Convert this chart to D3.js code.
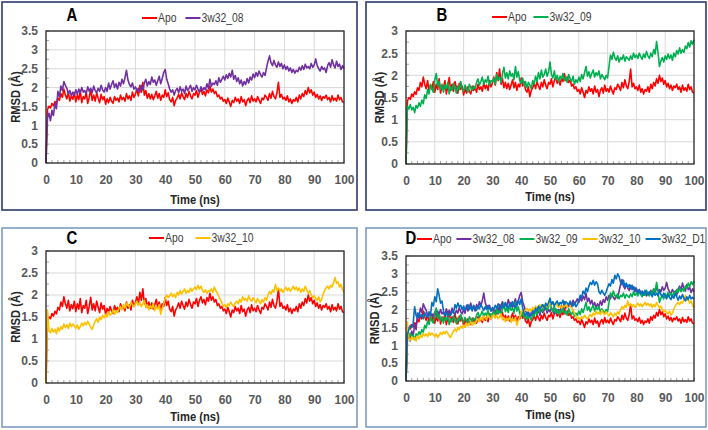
<!DOCTYPE html>
<html>
<head>
<meta charset="utf-8">
<script src="https://cdn.jsdelivr.net/npm/d3@7"></script>
<style>
  body { margin: 0; background: #fff; }
  svg { display: block; font-family: "Liberation Sans", Arial, sans-serif; }
</style>
</head>
<body>
<div id="chart"></div>
<script>
// RMSD (Å) sampled every 0.5 ns, 0..100 ns (201 values each)
var timeStep = 0.5;

var apo = [
  0, 1.42, 1.50, 1.46, 1.58, 1.52, 1.63, 1.57, 1.72, 1.66, 1.84, 1.74, 1.96, 1.80, 1.70, 1.88, 1.64, 1.78, 1.69, 1.86,
  1.62, 1.80, 1.68, 1.92, 1.60, 1.76, 1.70, 1.88, 1.58, 1.74, 1.95, 1.66, 1.80, 1.64, 1.86, 1.72, 1.60, 1.82, 1.68, 1.76,
  1.56, 1.70, 1.60, 1.74, 1.64, 1.58, 1.76, 1.66, 1.72, 1.62, 1.80, 1.68, 1.74, 1.64, 1.84, 1.70, 1.78, 1.66, 1.88, 1.74,
  1.82, 1.96, 1.78, 2.06, 1.88, 2.14, 1.80, 1.92, 1.72, 1.84, 1.70, 1.82, 1.68, 1.78, 1.90, 1.72, 1.84, 1.66, 1.80, 1.74,
  1.94, 1.76, 1.86, 1.68, 1.62, 1.74, 1.52, 1.66, 1.72, 1.82, 1.70, 1.86, 1.76, 1.68, 1.84, 1.74, 1.90, 1.78, 1.70, 1.84,
  1.80, 1.92, 1.74, 1.88, 1.96, 1.82, 1.90, 1.78, 1.94, 1.86, 2.04, 1.88, 1.96, 1.84, 1.90, 1.76, 1.80, 1.70, 1.74, 1.64,
  1.68, 1.58, 1.72, 1.62, 1.50, 1.66, 1.60, 1.74, 1.64, 1.70, 1.58, 1.76, 1.62, 1.68, 1.52, 1.66, 1.72, 1.60, 1.78, 1.64,
  1.70, 1.62, 1.76, 1.66, 1.58, 1.72, 1.68, 1.80, 1.74, 1.66, 1.84, 1.72, 1.90, 1.76, 1.70, 1.86, 2.14, 1.74, 1.82, 1.70,
  1.74, 1.66, 1.78, 1.62, 1.70, 1.58, 1.68, 1.64, 1.74, 1.62, 1.80, 1.70, 1.84, 1.76, 1.92, 1.82, 2.00, 1.86, 1.94, 1.80,
  1.88, 1.74, 1.82, 1.70, 1.78, 1.66, 1.76, 1.72, 1.80, 1.68, 1.74, 1.62, 1.78, 1.66, 1.72, 1.64, 1.80, 1.68, 1.74, 1.62,
  1.60
];

var lig08 = [
  0, 1.20, 1.32, 1.12, 1.40, 1.26, 1.58, 1.44, 1.90, 1.76, 2.04, 1.92, 2.16, 2.06, 1.98, 1.84, 1.92, 1.78, 1.88, 1.80,
  1.94, 1.82, 1.96, 1.86, 2.00, 1.88, 1.92, 1.84, 2.02, 1.90, 1.98, 1.86, 2.04, 1.92, 1.86, 1.98, 1.90, 2.06, 1.94, 1.88,
  2.00, 1.90, 2.12, 1.96, 2.08, 2.18, 2.00, 2.10, 1.96, 2.14, 2.04, 2.22, 2.10, 2.26, 2.46, 2.20, 2.08, 2.02, 2.12, 1.96,
  2.02, 1.92, 1.98, 1.88, 2.06, 1.94, 2.12, 2.22, 2.04, 2.16, 2.08, 2.28, 2.14, 2.20, 2.06, 2.18, 2.30, 2.10, 2.24, 2.40,
  2.48, 2.22, 2.10, 1.96, 1.88, 1.94, 1.80, 1.92, 1.98, 1.86, 2.02, 1.90, 1.96, 1.84, 2.04, 1.92, 1.98, 2.06, 1.90, 2.00,
  1.94, 2.06, 1.96, 1.88, 2.02, 1.92, 2.00, 1.94, 2.10, 1.98, 2.22, 2.04, 2.12, 2.08, 2.18, 2.06, 2.26, 2.14, 2.22, 2.30,
  2.20, 2.34, 2.24, 2.38, 2.28, 2.46, 2.22, 2.32, 2.16, 2.26, 2.10, 2.20, 2.04, 2.16, 2.08, 2.24, 2.12, 2.28, 2.20, 2.36,
  2.26, 2.40, 2.30, 2.44, 2.34, 2.28, 2.40, 2.32, 2.52, 2.70, 2.84, 2.66, 2.58, 2.72, 2.60, 2.54, 2.68, 2.56, 2.64, 2.50,
  2.60, 2.48, 2.56, 2.44, 2.52, 2.40, 2.48, 2.38, 2.46, 2.42, 2.54, 2.46, 2.58, 2.48, 2.62, 2.52, 2.56, 2.50, 2.64, 2.54,
  2.60, 2.76, 2.58, 2.50, 2.44, 2.56, 2.48, 2.52, 2.40, 2.58, 2.66, 2.54, 2.74, 2.60, 2.52, 2.70, 2.56, 2.62, 2.48, 2.58,
  2.50
];

var lig09 = [
  0, 1.30, 1.24, 1.34, 1.22, 1.28, 1.16, 1.32, 1.26, 1.38, 1.30, 1.44, 1.36, 1.56, 1.48, 1.68, 1.58, 1.80, 1.70, 1.62,
  1.90, 2.04, 1.76, 1.86, 1.68, 1.80, 1.62, 1.78, 1.70, 1.84, 1.58, 1.74, 1.66, 1.82, 1.72, 1.60, 1.76, 1.68, 1.86, 1.72,
  1.64, 1.78, 1.70, 1.62, 1.80, 1.72, 1.66, 1.76, 1.70, 1.84, 1.92, 1.78, 1.86, 1.96, 1.80, 1.90, 1.84, 1.98, 1.78, 1.88,
  1.86, 1.94, 1.80, 2.02, 1.90, 1.96, 1.84, 2.04, 2.18, 1.94, 2.06, 1.92, 2.10, 1.98, 2.04, 1.90, 2.20, 1.96, 2.08, 1.88,
  1.82, 1.94, 1.76, 1.86, 1.72, 1.84, 1.78, 1.70, 1.88, 1.80, 1.98, 1.86, 2.06, 1.92, 2.12, 1.96, 2.02, 2.14, 1.98, 2.08,
  2.30, 2.02, 1.94, 2.10, 1.90, 2.00, 1.86, 1.98, 1.92, 2.04, 1.88, 1.96, 1.84, 2.02, 1.92, 1.86, 1.98, 1.80, 1.90, 1.84,
  1.96, 1.86, 2.02, 1.92, 2.06, 2.20, 1.98, 2.08, 1.94, 2.04, 2.12, 1.96, 2.06, 2.00, 2.10, 1.92, 2.02, 1.96, 1.90, 2.00,
  1.94, 2.20, 2.46, 2.36, 2.52, 2.40, 2.34, 2.44, 2.30, 2.40, 2.36, 2.46, 2.32, 2.42, 2.38, 2.34, 2.44, 2.36, 2.50, 2.40,
  2.46, 2.38, 2.50, 2.42, 2.36, 2.48, 2.40, 2.54, 2.44, 2.38, 2.50, 2.42, 2.58, 2.48, 2.76, 2.52, 2.20, 2.32, 2.40, 2.30,
  2.44, 2.36, 2.48, 2.38, 2.46, 2.34, 2.50, 2.42, 2.56, 2.48, 2.62, 2.50, 2.58, 2.52, 2.66, 2.60, 2.74, 2.64, 2.78, 2.70,
  2.80
];

var lig10 = [
  0, 1.66, 1.18, 1.14, 1.24, 1.16, 1.22, 1.12, 1.26, 1.18, 1.28, 1.22, 1.34, 1.26, 1.32, 1.24, 1.36, 1.28, 1.34, 1.30,
  1.24, 1.32, 1.22, 1.28, 1.36, 1.30, 1.38, 1.32, 1.40, 1.34, 1.26, 1.22, 1.32, 1.40, 1.46, 1.38, 1.50, 1.44, 1.54, 1.48,
  1.56, 1.50, 1.62, 1.54, 1.58, 1.66, 1.56, 1.64, 1.60, 1.70, 1.74, 1.66, 1.78, 1.70, 1.82, 1.76, 1.72, 1.84, 1.78, 1.74,
  1.80, 1.86, 1.76, 1.84, 1.74, 1.80, 1.88, 1.72, 1.78, 1.66, 1.76, 1.70, 1.80, 1.64, 1.74, 1.68, 1.78, 1.56, 1.70, 1.80,
  1.92, 2.00, 1.94, 1.98, 2.04, 1.96, 2.02, 1.94, 2.06, 2.00, 2.10, 2.02, 2.08, 2.14, 2.04, 2.10, 2.06, 2.16, 2.08, 2.14,
  2.18, 2.12, 2.22, 2.14, 2.20, 2.10, 2.06, 2.12, 2.04, 2.10, 2.08, 2.14, 2.06, 2.18, 2.10, 2.04, 1.96, 1.90, 1.82, 1.74,
  1.78, 1.72, 1.80, 1.76, 1.84, 1.78, 1.74, 1.82, 1.86, 1.80, 1.90, 1.84, 1.96, 1.88, 1.92, 1.86, 1.98, 1.90, 1.86, 1.94,
  1.88, 1.82, 1.92, 1.86, 1.80, 1.90, 1.84, 1.94, 1.88, 2.00, 2.08, 2.02, 2.12, 2.06, 2.24, 2.10, 2.16, 2.08, 2.14, 2.06,
  2.12, 2.18, 2.10, 2.16, 2.08, 2.14, 2.20, 2.12, 2.18, 2.10, 2.16, 2.06, 2.14, 2.08, 2.20, 2.12, 2.04, 2.10, 2.00, 1.94,
  1.98, 1.92, 1.88, 1.96, 1.84, 1.90, 2.02, 2.10, 2.16, 2.20, 2.14, 2.22, 2.18, 2.28, 2.40, 2.26, 2.30, 2.18, 2.24, 2.12,
  2.06
];

var ligD1 = [
  0, 1.30, 1.44, 1.56, 1.50, 1.62, 2.08, 1.84, 1.76, 1.90, 1.80, 1.86, 1.74, 1.92, 1.82, 1.78, 1.94, 1.84, 2.20, 2.10,
  2.36, 2.22, 2.58, 2.40, 2.18, 2.24, 1.96, 1.84, 1.92, 1.80, 1.88, 1.84, 1.96, 1.90, 2.14, 2.04, 2.18, 2.08, 2.12, 2.00,
  2.10, 1.98, 2.06, 2.14, 2.00, 2.08, 1.96, 2.12, 2.04, 1.98, 2.10, 2.02, 2.14, 2.06, 1.98, 2.08, 2.00, 2.12, 2.04, 1.96,
  2.06, 2.00, 2.12, 2.04, 2.16, 2.08, 2.02, 2.14, 2.06, 2.20, 2.10, 2.04, 2.16, 2.08, 2.22, 2.12, 2.06, 2.18, 2.26, 2.14,
  2.30, 2.06, 1.90, 1.84, 1.92, 1.80, 1.88, 1.84, 1.96, 1.90, 2.04, 1.96, 2.10, 2.02, 2.08, 2.14, 2.04, 2.18, 2.10, 2.20,
  2.32, 2.14, 2.22, 2.10, 2.18, 2.24, 2.12, 2.20, 2.16, 2.26, 2.14, 2.22, 2.18, 2.12, 2.24, 2.16, 2.10, 2.20, 2.08, 2.14,
  2.26, 2.40, 2.34, 2.52, 2.44, 2.60, 2.50, 2.66, 2.76, 2.70, 2.82, 2.68, 2.78, 2.72, 2.50, 2.44, 2.54, 2.46, 2.40, 2.50,
  2.62, 2.72, 2.66, 2.84, 2.74, 2.96, 2.86, 3.00, 2.92, 2.76, 2.70, 2.82, 2.64, 2.74, 2.62, 2.70, 2.58, 2.68, 2.56, 2.62,
  2.52, 2.46, 2.56, 2.44, 2.50, 2.40, 2.54, 2.46, 2.42, 2.50, 2.44, 2.36, 2.48, 2.40, 2.46, 2.38, 2.52, 2.42, 2.36, 2.46,
  2.38, 2.30, 2.42, 2.34, 2.28, 2.40, 2.32, 2.44, 2.36, 2.26, 2.38, 2.30, 2.42, 2.32, 2.24, 2.36, 2.28, 2.40, 2.30, 2.34,
  2.30
];

var seriesNames = ["Apo", "3w32_08", "3w32_09", "3w32_10", "3w32_D1"];
var seriesValues = [apo, lig08, lig09, lig10, ligD1];
var seriesColors = ["#ff0000", "#7030a0", "#00b050", "#ffc000", "#0070c0"];

var xTicks = [0, 10, 20, 30, 40, 50, 60, 70, 80, 90, 100];

var W = 708, H = 430;
var NARROW = 0.83;   // squeeze text horizontally, no condensed font installed

var panels = [
  {label: "A", box: [2, 2, 355, 208], border: "#2e3a6b", plot: [46, 31, 344, 163], yMax: 3.5,
   series: [0, 1], legendX: 142, legendY: 18, legendGap: 9, labelX: 72, labelY: 21, ylabX: 15, xtitleY: 204},
  {label: "B", box: [366, 2, 340, 208], border: "#2e3a6b", plot: [406, 31, 694, 164], yMax: 3,
   series: [0, 2], legendX: 492, legendY: 17, legendGap: 7, labelX: 442, labelY: 21, ylabX: 379, xtitleY: 201},
  {label: "C", box: [2, 228, 355, 199], border: "#7f9cc0", plot: [46, 251, 344, 383], yMax: 3,
   series: [0, 3], legendX: 149, legendY: 238, legendGap: 12, labelX: 72, labelY: 244, ylabX: 15, xtitleY: 421},
  {label: "D", box: [366, 228, 340, 199], border: "#7f9cc0", plot: [406, 256, 694, 381], yMax: 3.5,
   series: [0, 1, 2, 3, 4], legendX: 417, legendY: 239, legendGap: 5, labelX: 411, labelY: 244, ylabX: 374, xtitleY: 419}
];

var svg = d3.select("#chart").append("svg")
    .attr("width", W)
    .attr("height", H);

panels.forEach(drawPanel);

function narrowText(parent, x, y, str, rotate) {
    var tr = "translate(" + x + "," + y + ")" + (rotate ? " rotate(-90)" : "");
    return parent.append("g").attr("transform", tr)
        .append("text")
        .attr("transform", "scale(" + NARROW + ",1)")
        .text(str);
}

function drawPanel(p) {
    var g = svg.append("g");
    var L = p.plot[0], T = p.plot[1], R = p.plot[2], B = p.plot[3];

    g.append("rect")
        .attr("x", p.box[0]).attr("y", p.box[1])
        .attr("width", p.box[2]).attr("height", p.box[3])
        .attr("fill", "#fff")
        .attr("stroke", p.border)
        .attr("stroke-width", 1.6);

    var x = d3.scaleLinear().domain([0, 100]).range([L, R]);
    var y = d3.scaleLinear().domain([0, p.yMax]).range([B, T]);
    var yTicks = d3.range(0, p.yMax + 0.001, 0.5);

    // gridlines
    g.append("g").selectAll("line").data(xTicks.slice(1, -1)).join("line")
        .attr("x1", d => x(d)).attr("x2", d => x(d))
        .attr("y1", T).attr("y2", B)
        .attr("stroke", "#d9d9d9").attr("stroke-width", 1);
    g.append("g").selectAll("line").data(yTicks.slice(1)).join("line")
        .attr("x1", L).attr("x2", R)
        .attr("y1", d => y(d)).attr("y2", d => y(d))
        .attr("stroke", "#d9d9d9").attr("stroke-width", 1);

    // minor ticks, pointing into the plot
    g.append("g").selectAll("line").data(d3.range(0, 100.01, 2)).join("line")
        .attr("x1", d => x(d)).attr("x2", d => x(d))
        .attr("y1", B).attr("y2", B - 3)
        .attr("stroke", "#a6a6a6");
    g.append("g").selectAll("line").data(d3.range(0, p.yMax + 0.001, 0.25)).join("line")
        .attr("x1", L).attr("x2", L + 3)
        .attr("y1", d => y(d)).attr("y2", d => y(d))
        .attr("stroke", "#a6a6a6");

    // series
    var line = d3.line()
        .x((d, i) => x(i * timeStep))
        .y(d => y(d));
    p.series.forEach(function(si) {
        g.append("path")
            .datum(seriesValues[si])
            .attr("fill", "none")
            .attr("stroke", seriesColors[si])
            .attr("stroke-width", 1.6)
            .attr("stroke-linejoin", "round")
            .attr("d", line);
    });

    // plot frame
    g.append("rect")
        .attr("x", L).attr("y", T)
        .attr("width", R - L).attr("height", B - T)
        .attr("fill", "none")
        .attr("stroke", "#262626")
        .attr("stroke-width", 1.3);

    // tick labels
    var xAxis = d3.axisBottom(x).tickValues(xTicks).tickSize(0).tickPadding(12);
    var ya = d3.axisLeft(y).tickValues(yTicks).tickSize(0).tickPadding(8)
        .tickFormat(d3.format("~g"));

    var gx = g.append("g").attr("transform", "translate(0," + B + ")").call(xAxis);
    var gy = g.append("g").attr("transform", "translate(" + L + ",0)").call(ya);
    [gx, gy].forEach(function(a) {
        a.select(".domain").remove();
        a.selectAll("text")
            .attr("fill", "#595959")
            .style("font-family", "'Liberation Sans', Arial, sans-serif")
            .style("font-size", "12px")
            .style("font-weight", "bold");
    });

    narrowText(g, (L + R) / 2, p.xtitleY, "Time (ns)")
        .attr("text-anchor", "middle")
        .attr("fill", "#262626")
        .style("font-size", "13.5px").style("font-weight", "bold");

    narrowText(g, p.ylabX, (T + B) / 2, "RMSD (Å)", true)
        .attr("text-anchor", "middle")
        .attr("dy", "0.35em")
        .attr("fill", "#262626")
        .style("font-size", "13.5px").style("font-weight", "bold");

    narrowText(g, p.labelX, p.labelY, p.label)
        .attr("text-anchor", "middle")
        .attr("fill", "#000")
        .style("font-size", "18px").style("font-weight", "bold");

    // legend
    var lx = p.legendX;
    p.series.forEach(function(si) {
        g.append("line")
            .attr("x1", lx).attr("x2", lx + 15)
            .attr("y1", p.legendY).attr("y2", p.legendY)
            .attr("stroke", seriesColors[si]).attr("stroke-width", 2);
        var t = narrowText(g, lx + 16, p.legendY, seriesNames[si])
            .attr("dy", "0.35em")
            .attr("fill", "#404040")
            .style("font-size", "12.5px");
        lx += 16 + t.node().getComputedTextLength() * NARROW + p.legendGap;
    });
}
</script>
</body>
</html>
